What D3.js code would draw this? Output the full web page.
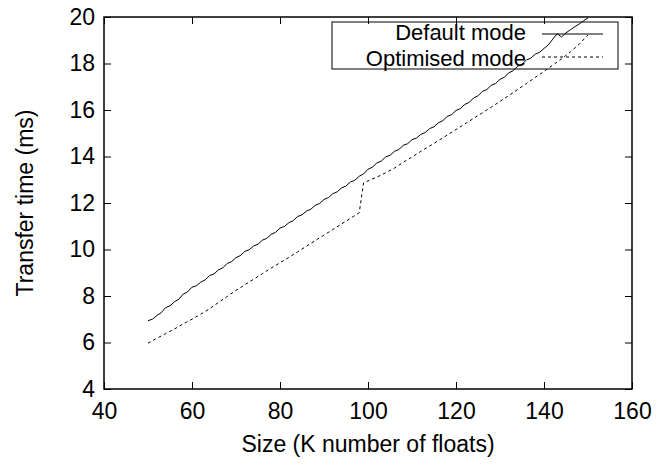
<!DOCTYPE html>
<html><head><meta charset="utf-8">
<script src="https://cdn.jsdelivr.net/npm/d3@7"></script>
<style>body{margin:0;background:#fff}text{font-family:"Liberation Sans",Arial,sans-serif;fill:#000}</style>
</head><body><svg id="c" width="657" height="466"></svg>
<script>
const xTicks = [40,60,80,100,120,140,160];
const yTicks = [4,6,8,10,12,14,16,18,20];
const defaultX = [50,51,52,53,54,55,56,57,58,59,60,61,62,63,64,65,66,67,68,69,70,71,72,73,74,75,76,77,78,79,80,81,82,83,84,85,86,87,88,89,90,91,92,93,94,95,96,97,98,99,100,101,102,103,104,105,106,107,108,109,110,111,112,113,114,115,116,117,118,119,120,121,122,123,124,125,126,127,128,129,130,131,132,133,134,135,136,137,138,139,140,141,142,143,144,145,146,147,148,149,150];
const defaultY = [6.94,7.00,7.16,7.28,7.50,7.58,7.75,7.86,8.08,8.18,8.38,8.44,8.60,8.69,8.88,8.95,9.12,9.21,9.40,9.48,9.65,9.74,9.92,9.99,10.15,10.23,10.40,10.48,10.65,10.74,10.92,10.99,11.15,11.24,11.42,11.49,11.65,11.73,11.90,11.98,12.15,12.23,12.40,12.48,12.65,12.73,12.90,12.98,13.15,13.25,13.45,13.54,13.72,13.80,13.98,14.05,14.22,14.30,14.48,14.55,14.72,14.79,14.95,15.03,15.20,15.28,15.45,15.54,15.72,15.80,15.98,16.06,16.24,16.33,16.52,16.61,16.80,16.88,17.06,17.14,17.32,17.41,17.60,17.69,17.88,17.97,18.15,18.23,18.40,18.48,18.65,18.80,19.05,19.28,19.14,19.32,19.45,19.58,19.70,19.84,19.96];
const optX = [50,52,54,56,58,60,62,64,66,68,70,72,74,76,78,80,82,84,86,88,90,92,94,96,98,99,100,102,104,106,108,110,112,114,116,118,120,122,124,126,128,130,132,134,136,138,140,142,144,146,148,150];
const optY = [5.97,6.18,6.38,6.58,6.80,7.00,7.22,7.45,7.72,7.98,8.24,8.48,8.72,8.96,9.20,9.43,9.66,9.90,10.14,10.38,10.62,10.86,11.10,11.34,11.58,12.87,12.95,13.11,13.30,13.50,13.75,13.98,14.22,14.45,14.68,14.92,15.16,15.40,15.64,15.88,16.12,16.37,16.62,16.88,17.14,17.40,17.66,17.93,18.20,18.50,18.83,19.23];
const seriesNames = ["Default mode","Optimised mode"];

const svg = d3.select("#c");
const L=104, R=632, T=17, B=389;
const x = d3.scaleLinear().domain([40,160]).range([L,R]);
const y = d3.scaleLinear().domain([4,20]).range([B,T]);
const fs = 23, tl = 7;

const g = svg.append("g");
g.append("g").attr("transform",`translate(0,${B})`)
 .call(d3.axisBottom(x).tickValues(xTicks).tickSize(-tl).tickPadding(12).tickFormat(d3.format("d")))
 .call(s=>{s.select(".domain").remove();s.selectAll("line").attr("stroke","#000");s.selectAll("text").attr("font-size",fs).attr("font-family","Liberation Sans").attr("dy","0.78em");});
g.append("g").attr("transform",`translate(0,${T})`)
 .call(d3.axisTop(x).tickValues(xTicks).tickSize(-tl).tickFormat(""))
 .call(s=>{s.select(".domain").remove();s.selectAll("line").attr("stroke","#000");});
g.append("g").attr("transform",`translate(${L},0)`)
 .call(d3.axisLeft(y).tickValues(yTicks).tickSize(-tl).tickPadding(9).tickFormat(d3.format("d")))
 .call(s=>{s.select(".domain").remove();s.selectAll("line").attr("stroke","#000");s.selectAll("text").attr("font-size",fs).attr("font-family","Liberation Sans");});
g.append("g").attr("transform",`translate(${R},0)`)
 .call(d3.axisRight(y).tickValues(yTicks).tickSize(-tl).tickFormat(""))
 .call(s=>{s.select(".domain").remove();s.selectAll("line").attr("stroke","#000");});

svg.append("rect").attr("x",L).attr("y",T).attr("width",R-L).attr("height",B-T)
  .attr("fill","none").attr("stroke","#000").attr("stroke-width",1.5);

svg.append("text").attr("x",(L+R)/2).attr("y",452).attr("text-anchor","middle").attr("font-size",fs).text("Size (K number of floats)");
svg.append("text").attr("transform",`translate(33,${(T+B)/2}) rotate(-90)`).attr("text-anchor","middle").attr("font-size",fs).text("Transfer time (ms)");

svg.append("rect").attr("x",332).attr("y",22).attr("width",286).attr("height",47).attr("fill","none").attr("stroke","#000").attr("stroke-width",1);
const legY=[34,57], legBase=[40,65.5];
seriesNames.forEach((n,i)=>{
  svg.append("text").attr("x",526).attr("y",legBase[i]).attr("text-anchor","end").attr("font-size",22).text(n);
  svg.append("line").attr("x1",542).attr("x2",603).attr("y1",legY[i]).attr("y2",legY[i])
   .attr("stroke","#000").attr("stroke-width",1).attr("stroke-dasharray",i?"3,3":null);
});

const line = d3.line().x(d=>x(d[0])).y(d=>y(d[1]));
svg.append("path").datum(d3.zip(defaultX,defaultY)).attr("d",line).attr("fill","none").attr("stroke","#000").attr("stroke-width",1);
svg.append("path").datum(d3.zip(optX,optY)).attr("d",line).attr("fill","none").attr("stroke","#000").attr("stroke-width",1).attr("stroke-dasharray","3,3");
</script></body></html>
